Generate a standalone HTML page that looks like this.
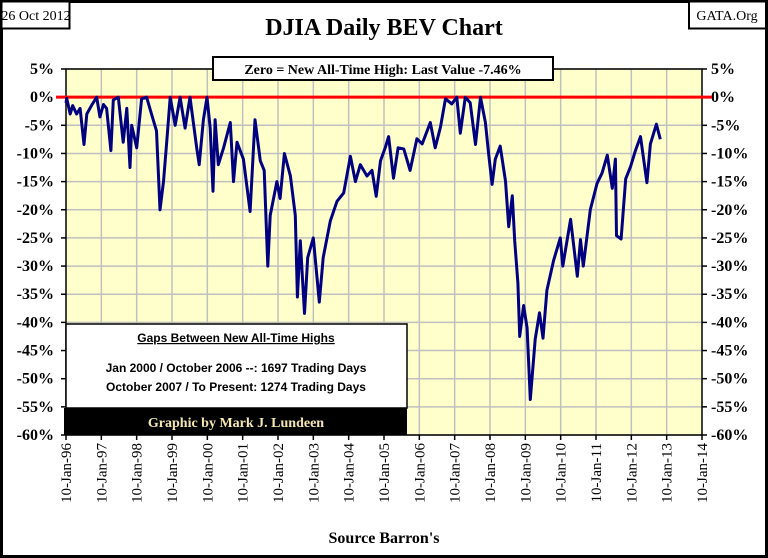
<!DOCTYPE html>
<html><head><meta charset="utf-8"><style>
html,body{margin:0;padding:0;background:#fff;}
svg{display:block;font-family:"Liberation Serif",serif;}
</style></head><body>
<svg id="c" width="768" height="558" viewBox="0 0 768 558">
<rect x="1.5" y="1.5" width="765" height="555" fill="#fff" stroke="#000" stroke-width="3"/>
<rect x="1.5" y="1.5" width="68" height="27" fill="#fff" stroke="#000" stroke-width="2"/>
<text x="36" y="20" font-size="14" text-anchor="middle">26 Oct 2012</text>
<rect x="689" y="1.5" width="77" height="27" fill="#fff" stroke="#000" stroke-width="2"/>
<text x="727" y="20" font-size="14" text-anchor="middle">GATA.Org</text>
<text x="384" y="35" font-size="24" font-weight="bold" text-anchor="middle">DJIA Daily BEV Chart</text>
<g id="plot"></g>
<rect x="213" y="57" width="340" height="23" fill="#fff" stroke="#000" stroke-width="2"/>
<text x="383" y="74" font-size="14" font-weight="bold" text-anchor="middle">Zero = New All-Time High: Last Value  -7.46%</text>
<rect x="66" y="324" width="341" height="84" fill="#fff" stroke="#000" stroke-width="1.5"/>
<text x="236" y="342" font-size="12" font-weight="bold" font-family="Liberation Sans,sans-serif" text-anchor="middle" text-decoration="underline">Gaps Between New All-Time Highs</text>
<text x="236" y="372" font-size="12" font-weight="bold" font-family="Liberation Sans,sans-serif" text-anchor="middle">Jan 2000 / October 2006 --: 1697 Trading Days</text>
<text x="236" y="391" font-size="12" font-weight="bold" font-family="Liberation Sans,sans-serif" text-anchor="middle">October 2007 / To Present:  1274 Trading Days</text>
<rect x="64" y="408" width="343" height="27" fill="#000"/>
<text x="236" y="427" font-size="14" font-weight="bold" fill="#f3e6b0" text-anchor="middle">Graphic by Mark J. Lundeen</text>
<text x="384" y="543" font-size="16" font-weight="bold" text-anchor="middle">Source Barron's</text>
</svg>
<script>
const dates=[1996.0,1996.02,1996.12,1996.19,1996.3,1996.4,1996.51,1996.59,1996.73,1996.87,1996.96,1997.06,1997.15,1997.27,1997.34,1997.48,1997.62,1997.72,1997.81,1997.86,1998.0,1998.14,1998.28,1998.42,1998.56,1998.66,1998.76,1998.85,1998.95,1999.09,1999.23,1999.37,1999.51,1999.7,1999.77,1999.89,1999.99,2000.08,2000.16,2000.22,2000.31,2000.46,2000.65,2000.74,2000.84,2001.02,2001.21,2001.35,2001.5,2001.61,2001.71,2001.78,2001.97,2002.06,2002.18,2002.35,2002.49,2002.55,2002.63,2002.75,2002.84,2003.0,2003.17,2003.28,2003.48,2003.67,2003.86,2004.05,2004.19,2004.33,2004.52,2004.66,2004.78,2004.9,2005.04,2005.13,2005.27,2005.4,2005.56,2005.74,2005.93,2006.08,2006.31,2006.45,2006.6,2006.74,2006.92,2007.06,2007.16,2007.3,2007.44,2007.59,2007.73,2007.87,2007.96,2008.06,2008.15,2008.29,2008.44,2008.53,2008.63,2008.7,2008.79,2008.84,2008.95,2009.05,2009.14,2009.28,2009.4,2009.5,2009.61,2009.8,2009.99,2010.06,2010.28,2010.47,2010.56,2010.64,2010.84,2011.03,2011.17,2011.32,2011.46,2011.55,2011.58,2011.71,2011.84,2011.98,2012.12,2012.26,2012.44,2012.54,2012.71,2012.82];
const values=[-1,-0.2,-3,-1.5,-3,-2,-8.4,-3,-1.4,0,-3.5,-1.3,-2,-9.5,-0.5,0,-8,-2,-12.5,-5,-9,-0.3,0,-3,-6,-20,-15,-8,0,-5,0,-5.5,0,-9,-12,-4,0,-5.5,-16.7,-4,-12,-9,-4.5,-15,-8,-11,-20.3,-4,-11.3,-13,-30,-21,-15,-18,-10,-14,-21,-35.5,-25.5,-38.4,-28.5,-25,-36.4,-28.5,-22,-18.5,-17,-10.5,-15,-12,-14,-13,-17.6,-11.3,-8.9,-7,-14.4,-9,-9.2,-13,-7.4,-8.3,-4.5,-9,-5.3,-0.3,-1.2,0,-6.4,0,-1,-8.4,0,-4.5,-10,-15.5,-11,-8.7,-14.9,-23,-17.5,-25.5,-33,-42.5,-37,-41,-53.7,-43,-38.3,-42.8,-34.3,-29,-25,-30,-21.7,-31.8,-25.3,-30,-20,-15.3,-13.5,-10.3,-16.2,-11,-24.6,-25.2,-14.5,-12.3,-9.4,-7,-15.2,-8.3,-4.8,-7.46];
const yTicks=[5,0,-5,-10,-15,-20,-25,-30,-35,-40,-45,-50,-55,-60];
const xTickLabels=["10-Jan-96","10-Jan-97","10-Jan-98","10-Jan-99","10-Jan-00","10-Jan-01","10-Jan-02","10-Jan-03","10-Jan-04","10-Jan-05","10-Jan-06","10-Jan-07","10-Jan-08","10-Jan-09","10-Jan-10","10-Jan-11","10-Jan-12","10-Jan-13","10-Jan-14"];
const NS="http://www.w3.org/2000/svg";
const L=66,R=702,T=69,B=435,X0=1996,X1=2014,YMAX=5,YMIN=-60;
const xs=d=>L+(d-X0)/(X1-X0)*(R-L);
const ys=v=>T+(YMAX-v)/(YMAX-YMIN)*(B-T);
const g=document.getElementById('plot');
function mk(tag,attrs){const e=document.createElementNS(NS,tag);for(const k in attrs)e.setAttribute(k,attrs[k]);g.appendChild(e);return e;}
let bg=mk('rect',{x:L,y:T,width:R-L,height:B-T,fill:'#ffffcc'});


yTicks.forEach(v=>{
  const y=ys(v);
  const gl=mk('line',{x1:L,x2:R,y1:y,y2:y,stroke:'#c0c0c0','stroke-width':1.5});
  
  
  mk('line',{x1:L-5,x2:L,y1:y,y2:y,stroke:'#000','stroke-width':1.5});
  mk('line',{x1:R,x2:R+5,y1:y,y2:y,stroke:'#000','stroke-width':1.5});
  const t1=mk('text',{x:L-12,y:y+5,'font-size':16,'font-weight':'bold','text-anchor':'end'});
  t1.textContent=v+'%';
  
  
  const t2=mk('text',{x:R+9,y:y+5,'font-size':16,'font-weight':'bold','text-anchor':'start'});
  t2.textContent=v+'%';
  
  
});
xTickLabels.forEach((s,i)=>{
  const x=xs(X0+i);
  if(i>0&&i<xTickLabels.length-1){
    const gl=mk('line',{x1:x,x2:x,y1:T,y2:B,stroke:'#c0c0c0','stroke-width':1.5});
    
    
  }
  mk('line',{x1:x,x2:x,y1:B,y2:B+5,stroke:'#000','stroke-width':1.5});
  const t=mk('text',{x:0,y:0,'font-size':15,'text-anchor':'end',transform:`translate(${x+5},${B+8}) rotate(-90)`});
  t.textContent=s;
  
  
});
let fr=mk('rect',{x:L,y:T,width:R-L,height:B-T,fill:'none',stroke:'#000','stroke-width':1.5});


const zl=mk('line',{x1:L-10,x2:R+10,y1:ys(0),y2:ys(0),stroke:'#ff0000','stroke-width':3});


const pts=dates.map((d,i)=>xs(d).toFixed(1)+','+ys(values[i]).toFixed(1)).join(' ');
const pl=mk('polyline',{points:pts,fill:'none',stroke:'#000080','stroke-width':3,'stroke-linejoin':'round'});


</script>
</body></html>
